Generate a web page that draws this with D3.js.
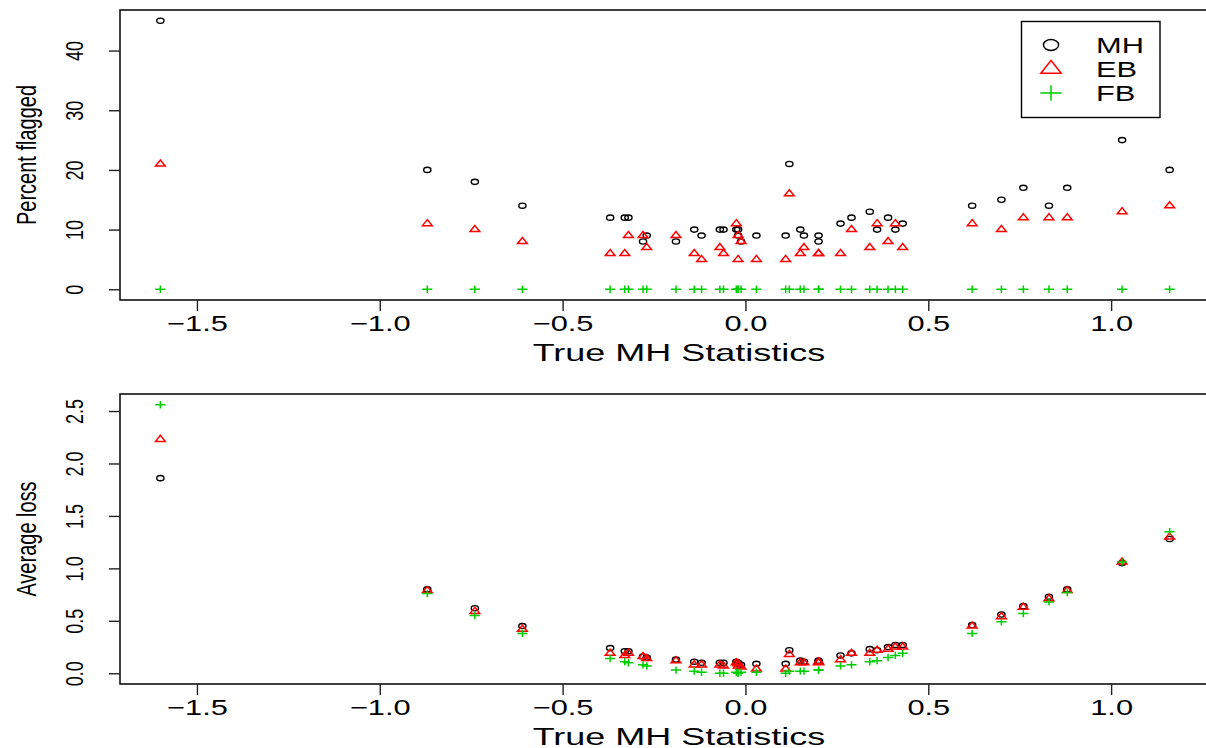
<!doctype html>
<head>
  <meta charset="utf-8">
  <script src="https://d3js.org/d3.v7.min.js"></script>
  <style>
    body { margin: 0; background: #fff; }
    text { font-family: "Liberation Sans", Arial, sans-serif; fill: #000; }
  </style>
</head>
<body>
<div id="viz"></div>
<script>

// true MH statistic of each item
var mhStat = [-1.60, -0.87, -0.74, -0.61, -0.37, -0.33, -0.32, -0.28, -0.27, -0.19,
  -0.14, -0.12, -0.07, -0.06, -0.025, -0.02, -0.02, -0.012, 0.03, 0.11,
  0.12, 0.15, 0.16, 0.20, 0.20, 0.26, 0.29, 0.34, 0.36, 0.39,
  0.41, 0.43, 0.62, 0.70, 0.76, 0.83, 0.88, 1.03, 1.16]

// percent flagged
var pctMH = [45, 20, 18, 14, 12, 12, 12, 8, 9, 8,
  10, 9, 10, 10, 10, 9, 10, 8, 9, 9,
  21, 10, 9, 9, 8, 11, 12, 13, 10, 12,
  10, 11, 14, 15, 17, 14, 17, 25, 20]
var pctEB = [21, 11, 10, 8, 6, 6, 9, 9, 7, 9,
  6, 5, 7, 6, 11, 9, 5, 8, 5, 5,
  16, 6, 7, 6, 6, 6, 10, 7, 11, 8,
  11, 7, 11, 10, 12, 12, 12, 13, 14]
var pctFB = [0, 0, 0, 0, 0, 0, 0, 0, 0, 0,
  0, 0, 0, 0, 0, 0, 0, 0, 0, 0,
  0, 0, 0, 0, 0, 0, 0, 0, 0, 0,
  0, 0, 0, 0, 0, 0, 0, 0, 0]

// average loss
var lossMH = [1.86, 0.80, 0.62, 0.45, 0.24, 0.21, 0.21, 0.16, 0.15, 0.13,
  0.11, 0.10, 0.10, 0.10, 0.11, 0.10, 0.09, 0.08, 0.09, 0.09,
  0.22, 0.12, 0.11, 0.12, 0.11, 0.17, 0.19, 0.23, 0.22, 0.25,
  0.27, 0.27, 0.46, 0.56, 0.64, 0.73, 0.80, 1.05, 1.28]
var lossEB = [2.23, 0.79, 0.59, 0.42, 0.19, 0.17, 0.19, 0.16, 0.14, 0.12,
  0.08, 0.08, 0.08, 0.07, 0.10, 0.09, 0.07, 0.06, 0.04, 0.04,
  0.18, 0.10, 0.10, 0.11, 0.10, 0.13, 0.19, 0.19, 0.22, 0.23,
  0.25, 0.25, 0.45, 0.54, 0.63, 0.71, 0.79, 1.06, 1.30]
var lossFB = [2.56, 0.76, 0.55, 0.38, 0.14, 0.11, 0.10, 0.08, 0.07, 0.03,
  0.02, 0.01, 0.00, 0.00, 0.01, 0.00, 0.00, 0.01, 0.01, 0.00,
  0.02, 0.02, 0.02, 0.03, 0.03, 0.07, 0.08, 0.11, 0.12, 0.15,
  0.17, 0.19, 0.38, 0.49, 0.57, 0.68, 0.77, 1.06, 1.35]

var xTicks = [-1.5, -1.0, -0.5, 0.0, 0.5, 1.0]
var pctTicks = [0, 10, 20, 30, 40]
var lossTicks = [0.0, 0.5, 1.0, 1.5, 2.0, 2.5]
var seriesNames = ['MH', 'EB', 'FB']
var seriesColors = ['#000000', '#ff0000', '#00cd00']
var seriesShapes = ['circle', 'triangle', 'plus']

var W = 1206, H = 748
var left = 120, right = 1210
var sx = 3.6, sy = 2.6   // marker half-size (the picture is stretched sideways)

var svg = d3.select('#viz').append('svg')
  .attr('width', W)
  .attr('height', H)

// R style 4% padding
var padded = function(ext) {
  var d = (ext[1] - ext[0]) * 0.04
  return [ext[0] - d, ext[1] + d]
}

var x = d3.scaleLinear().domain(padded(d3.extent(mhStat))).range([left, right])

var markerPath = function(shape, kx, ky) {
  if (shape == 'triangle') {
    var r = 1.5551 * ky, yc = 0.7776 * ky, xc = 1.3468 * kx
    return 'M0,' + (-r) + 'L' + xc + ',' + yc + 'L' + (-xc) + ',' + yc + 'Z'
  }
  var px = 1.4142 * kx, py = 1.4142 * ky
  return 'M' + (-px) + ',0H' + px + 'M0,' + (-py) + 'V' + py
}

var drawMarker = function(g, shape, color, cx, cy, kx, ky) {
  if (shape == 'circle') {
    g.append('ellipse')
      .attr('cx', cx).attr('cy', cy)
      .attr('rx', kx).attr('ry', ky)
      .style('fill', 'none')
      .style('stroke', color)
      .style('stroke-width', 1.4)
  } else {
    g.append('path')
      .attr('transform', 'translate(' + cx + ',' + cy + ')')
      .attr('d', markerPath(shape, kx, ky))
      .style('fill', 'none')
      .style('stroke', color)
      .style('stroke-width', 1.5)
  }
}

var panel = function(top, bottom, series, ticks, fmt, ylab) {
  var all = [].concat.apply([], series)
  var y = d3.scaleLinear().domain(padded(d3.extent(all))).range([bottom, top])
  var g = svg.append('g')

  series.forEach(function(vals, s) {
    var pg = g.append('g')
    vals.forEach(function(v, i) {
      drawMarker(pg, seriesShapes[s], seriesColors[s], x(mhStat[i]), y(v), sx, sy)
    })
  })

  g.append('rect')
    .attr('x', left).attr('y', top)
    .attr('width', right - left).attr('height', bottom - top)
    .style('fill', 'none')
    .style('stroke', '#000')
    .style('stroke-width', 1.5)

  var xa = g.append('g')
    .attr('transform', 'translate(0,' + bottom + ')')
    .call(d3.axisBottom(x).tickValues(xTicks).tickSize(11).tickSizeOuter(0)
      .tickFormat(function(d) { return d3.format('.1f')(d).replace('-', '\u2212') }))
  xa.select('.domain').remove()
  xa.selectAll('line').style('stroke', '#222').style('stroke-width', 1.4)
  xa.selectAll('text')
    .attr('y', 0).attr('dy', null)
    .attr('transform', 'translate(0,31) scale(1.4,1)')
    .style('font-size', '22px')
    .style('font-family', '"Liberation Sans", Arial, sans-serif')
    .style('fill', '#000')

  svg.append('text')
    .attr('transform', 'translate(679,' + (bottom + 61) + ') scale(1.5,1)')
    .attr('text-anchor', 'middle')
    .style('font-size', '24px')
    .text('True MH Statistics')

  var ya = g.append('g')
    .attr('transform', 'translate(' + left + ',0)')
    .call(d3.axisLeft(y).tickValues(ticks).tickSize(11).tickSizeOuter(0).tickFormat(fmt))
  ya.select('.domain').remove()
  ya.selectAll('line').style('stroke', '#222').style('stroke-width', 1.4)
  ya.selectAll('text')
    .attr('x', null).attr('dy', null)
    .attr('transform', 'translate(-37,0) scale(1.35,1) rotate(-90)')
    .attr('text-anchor', 'middle')
    .style('font-size', '18px')
    .style('font-family', '"Liberation Sans", Arial, sans-serif')
    .style('fill', '#000')

  svg.append('text')
    .attr('transform', 'translate(36,' + ((top + bottom) / 2) + ') scale(1.4,1) rotate(-90)')
    .attr('text-anchor', 'middle')
    .style('font-size', '20px')
    .text(ylab)
}

panel(10, 300, [pctMH, pctEB, pctFB], pctTicks, d3.format('d'), 'Percent flagged')
panel(394, 684, [lossMH, lossEB, lossFB], lossTicks, d3.format('.1f'), 'Average loss')

// legend
var lg = svg.append('g')
lg.append('rect')
  .attr('x', 1021.5).attr('y', 21.5)
  .attr('width', 138.5).attr('height', 96)
  .style('fill', '#fff')
  .style('stroke', '#000')
  .style('stroke-width', 1.4)

seriesNames.forEach(function(name, i) {
  var ly = 45 + i * 24
  drawMarker(lg, seriesShapes[i], seriesColors[i], 1051, ly, sx * 2.1, sy * 2.1)
  lg.append('text')
    .attr('transform', 'translate(1096,' + (ly + 8) + ') scale(1.4,1)')
    .style('font-size', '22px')
    .text(name)
})

</script>
